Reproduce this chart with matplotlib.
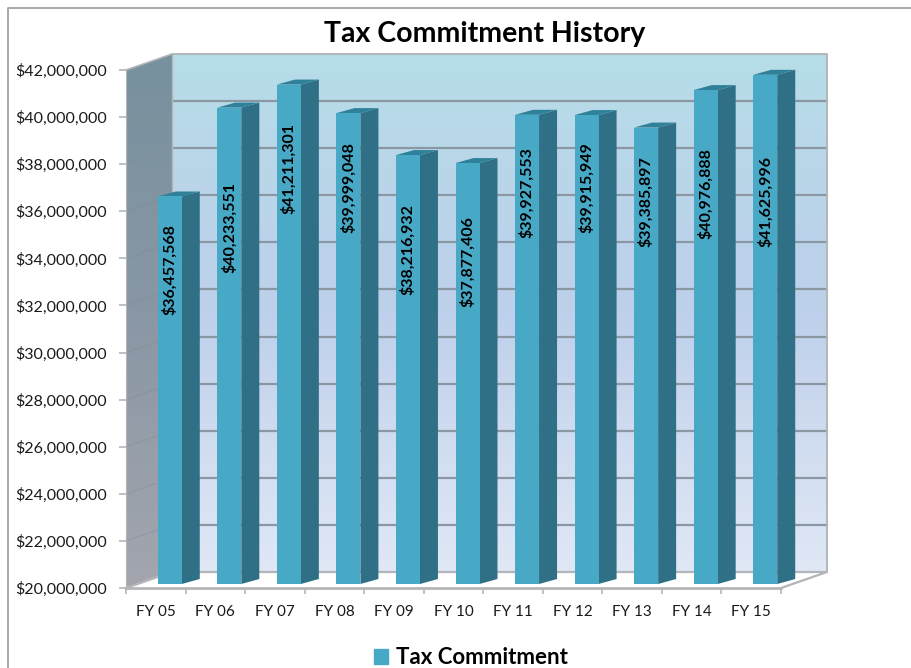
import numpy as np
import matplotlib
matplotlib.use('Agg')
import matplotlib.pyplot as plt
from matplotlib.colors import LinearSegmentedColormap
from matplotlib.lines import Line2D
from matplotlib.patches import Patch, Polygon

# === DATA ===
years = ['FY 05', 'FY 06', 'FY 07', 'FY 08', 'FY 09', 'FY 10',
         'FY 11', 'FY 12', 'FY 13', 'FY 14', 'FY 15']
commitment = [36457568, 40233551, 41211301, 39999048, 38216932, 37877406,
              39927553, 39915949, 39385897, 40976888, 41625996]
# the data labels sit at hand-placed heights in the original
label_heights = [33530000, 35310000, 37800000, 36990000, 34360000, 33850000,
                 36780000, 36990000, 36410000, 36750000, 36410000]
y_ticks = np.arange(20000000, 42000001, 2000000)

# === LAYOUT (pixels of the 911x668 picture) ===
W, H = 911, 668
LEFT, RIGHT, TOP, BOTTOM = 126, 781, 70, 588
DEPTH_X, DEPTH_Y = 46, 16
BAR_W, BAR_SHIFT_X, BAR_SHIFT_Y = 24, 14, 4
SIDE_X, SIDE_Y = 18, 5

plt.rcParams['font.family'] = ['Lato', 'DejaVu Sans']

fig = plt.figure(figsize=(W / 100, H / 100), dpi=100)
ax = fig.add_axes([LEFT / W, 1 - BOTTOM / H, (RIGHT - LEFT) / W, (BOTTOM - TOP) / H])
ax.patch.set_visible(False)

y0, y1 = y_ticks[0], y_ticks[-1]
n = len(years)
px_x = n / (RIGHT - LEFT)
px_y = (y1 - y0) / (BOTTOM - TOP)
dx, dy = DEPTH_X * px_x, DEPTH_Y * px_y

# === WALLS ===
back_cmap = LinearSegmentedColormap.from_list('back', ['#b6dde8', '#bad6ea', '#bed0eb', '#d0dcf0', '#e0e8f6'])
side_cmap = LinearSegmentedColormap.from_list('side', ['#77919e', '#8a97a5', '#a3a6ae'])
grad = np.linspace(0, 1, 256).reshape(-1, 1)

ax.imshow(grad, cmap=back_cmap, aspect='auto', zorder=1, clip_on=False,
          extent=[dx, n + dx, y0 + dy, y1 + dy], origin='upper')
side_img = ax.imshow(grad, cmap=side_cmap, aspect='auto', zorder=1,
                     extent=[0, dx, y0, y1 + dy], origin='upper')
side_poly = Polygon([(0, y0), (dx, y0 + dy), (dx, y1 + dy), (0, y1)], closed=True,
                    transform=ax.transData, fill=False, edgecolor='none')
ax.add_patch(side_poly)
side_poly.set_clip_on(False)
side_img.set_clip_path(side_poly)
side_img.set_clip_box(fig.bbox)  # the wall rises above the axes box

# floor
ax.fill([0, n, n + dx, dx], [y0, y0, y0 + dy, y0 + dy], color='white', zorder=1.5, clip_on=False)

# === GRIDLINES ===
grid_col = '#8b98a3'
for t in y_ticks:
    if t in (y0, y1):
        continue
    ax.plot([dx, n + dx], [t + dy, t + dy], color=grid_col, lw=1.6, zorder=2, clip_on=False)
    ax.plot([0, dx], [t, t + dy], color='#7f8a95', lw=0.8, alpha=0.4, zorder=2)

edge_col = '#b3b5b8'
ax.plot([dx, n + dx, n + dx], [y1 + dy, y1 + dy, y0 + dy], color=edge_col, lw=1.4, zorder=2, clip_on=False)
ax.plot([0, dx], [y1, y1 + dy], color=edge_col, lw=1.2, zorder=2, clip_on=False)
ax.plot([dx, dx], [y0 + dy, y1 + dy], color=edge_col, lw=1.0, zorder=2, clip_on=False)
ax.plot([0, dx, n + dx, n], [y0, y0 + dy, y0 + dy, y0], color=edge_col, lw=1.6, zorder=2, clip_on=False)

# === BARS ===
x = np.arange(n) + 0.5 + BAR_SHIFT_X * px_x
w = BAR_W * px_x
sx, sy = SIDE_X * px_x, SIDE_Y * px_y
base = y0 + BAR_SHIFT_Y * px_y
tops = np.array(commitment) + BAR_SHIFT_Y * px_y

for xi, top in zip(x, tops):
    r = xi + w / 2
    ax.fill([r, r + sx, r + sx, r], [base, base + sy, top + sy, top],
            color='#2f7086', zorder=3, clip_on=False, lw=0)
    ax.fill([xi - w / 2, xi - w / 2 + sx, r + sx, r], [top, top + sy, top + sy, top],
            color='#2f8199', zorder=3, clip_on=False, lw=0)
ax.bar(x, tops - base, width=w, bottom=base, color='#48a9c7', zorder=4, clip_on=False, label='Tax Commitment')

for xi, val, pos in zip(x, commitment, label_heights):
    ax.text(xi, pos, f'${val:,}', rotation=90, ha='center', va='center',
            fontsize=11.5, fontweight='bold', color='black', zorder=5)

# === AXES ===
ax.set_xlim(0, n)
ax.set_ylim(y0, y1)
ax.set_yticks(y_ticks)
ax.set_yticklabels([f'${t:,}' for t in y_ticks], fontsize=11.5, color='#1a1a1a')
ax.set_xticks(np.arange(n + 1))
ax.set_xticklabels([])
ax.set_xticks(np.arange(n) + 0.5, labels=years, minor=True, fontsize=11, color='#1a1a1a')
ax.tick_params(axis='x', which='minor', length=0, pad=12.5)
ax.tick_params(axis='x', which='major', length=4, color=edge_col, width=1.2)
ax.tick_params(axis='y', length=5, color=edge_col, width=1.2, pad=9)
for name in ('top', 'right'):
    ax.spines[name].set_visible(False)
ax.spines['left'].set_color(edge_col)
ax.spines['bottom'].set_color(edge_col)
ax.spines['bottom'].set_linewidth(2)
for sp in ax.spines.values():
    sp.set_zorder(2.5)

# === TITLE, LEGEND, BORDER ===
fig.text(484.5 / W, 1 - 34 / H, 'Tax Commitment History', ha='center', va='center',
         fontsize=20.5, fontweight='bold', color='black')

fig.legend(handles=[Patch(color='#48a9c7', label='Tax Commitment')], loc='center',
           bbox_to_anchor=(471 / W, 1 - 658 / H), frameon=False, handlelength=0.62, handleheight=0.62,
           handletextpad=0.35, prop={'size': 16, 'weight': 'bold'}, labelcolor='black')

border = '#a8a8a8'
fig.add_artist(Line2D([8 / W, 8 / W, 1], [0, 1 - 8 / H, 1 - 8 / H], color=border, lw=1.4))

plt.savefig('out.png', dpi=100)
